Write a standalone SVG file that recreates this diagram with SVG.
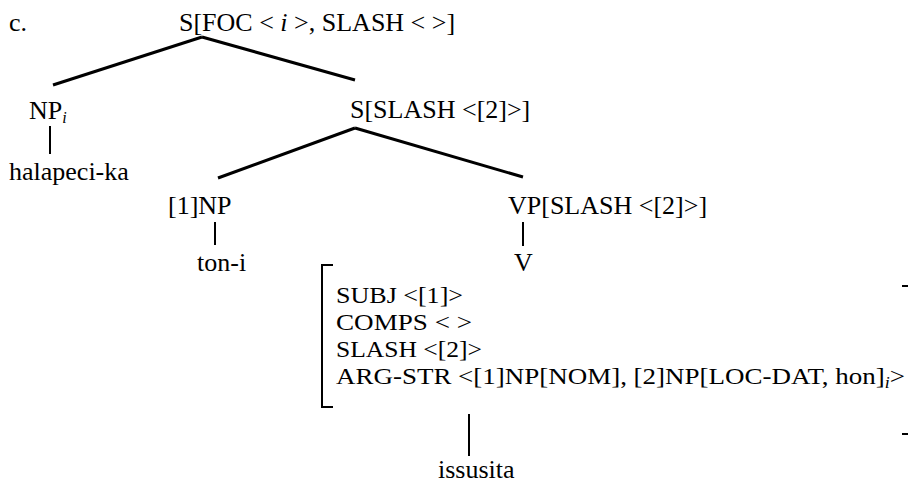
<svg xmlns="http://www.w3.org/2000/svg" width="913" height="488" viewBox="0 0 913 488">
<style>
text { font-family: 'Liberation Serif', 'DejaVu Serif', serif; font-size: 26px; fill: #000; }
.avm { font-size: 24px; }
.sub { font-size: 16px; font-style: italic; }
.it { font-style: italic; }
.edge { stroke: #000; stroke-width: 3; fill: none; }
.bar { stroke: #000; stroke-width: 2; fill: none; }
</style>
<rect width="913" height="488" fill="#fff"/>
<text id="label-c" x="9" y="31">c.</text>
<g id="connectors">
  <line class="edge" x1="202" y1="37" x2="53" y2="85"/>
  <line class="edge" x1="202" y1="37" x2="355" y2="80"/>
  <line class="bar" x1="50" y1="126" x2="50" y2="154"/>
  <line class="edge" x1="355" y1="128" x2="218" y2="178"/>
  <line class="edge" x1="355" y1="128" x2="523" y2="177"/>
  <line class="bar" x1="215" y1="222" x2="215" y2="245"/>
  <line class="bar" x1="523" y1="222" x2="523" y2="246"/>
  <line class="bar" x1="469" y1="414" x2="469" y2="456"/>
</g>
<g id="node-root"><text x="179" y="31">S[FOC &lt; <tspan class="it">i</tspan> &gt;, SLASH &lt; &gt;]</text></g>
<g id="node-npi"><text x="29" y="119">NP<tspan class="sub" dy="4">i</tspan></text></g>
<g id="node-halapeci"><text x="9" y="180">halapeci-ka</text></g>
<g id="node-s-slash"><text x="350" y="118">S[SLASH &lt;[2]&gt;]</text></g>
<g id="node-1np"><text x="168" y="214">[1]NP</text></g>
<g id="node-vp"><text x="508" y="214">VP[SLASH &lt;[2]&gt;]</text></g>
<g id="node-toni"><text x="197" y="271">ton-i</text></g>
<g id="node-v"><text x="514" y="271">V</text></g>
<g id="node-avm">
  <path class="bar" d="M333 265 H322 V407 H333"/>
  <text class="avm" x="336" y="303" textLength="127" lengthAdjust="spacingAndGlyphs">SUBJ &lt;[1]&gt;</text>
  <text class="avm" x="336" y="330" textLength="136" lengthAdjust="spacingAndGlyphs">COMPS &lt;  &gt;</text>
  <text class="avm" x="336" y="357" textLength="146" lengthAdjust="spacingAndGlyphs">SLASH &lt;[2]&gt;</text>
  <text class="avm" x="336" y="384" textLength="569" lengthAdjust="spacingAndGlyphs">ARG-STR &lt;[1]NP[NOM], [2]NP[LOC-DAT, hon]<tspan class="sub" dy="4">i</tspan><tspan dy="-4">&gt;</tspan></text>
  <line class="bar" x1="902" y1="286" x2="908" y2="286"/>
  <line class="bar" x1="902" y1="434" x2="908" y2="434"/>
</g>
<g id="node-issusita"><text x="438" y="478">issusita</text></g>
</svg>
